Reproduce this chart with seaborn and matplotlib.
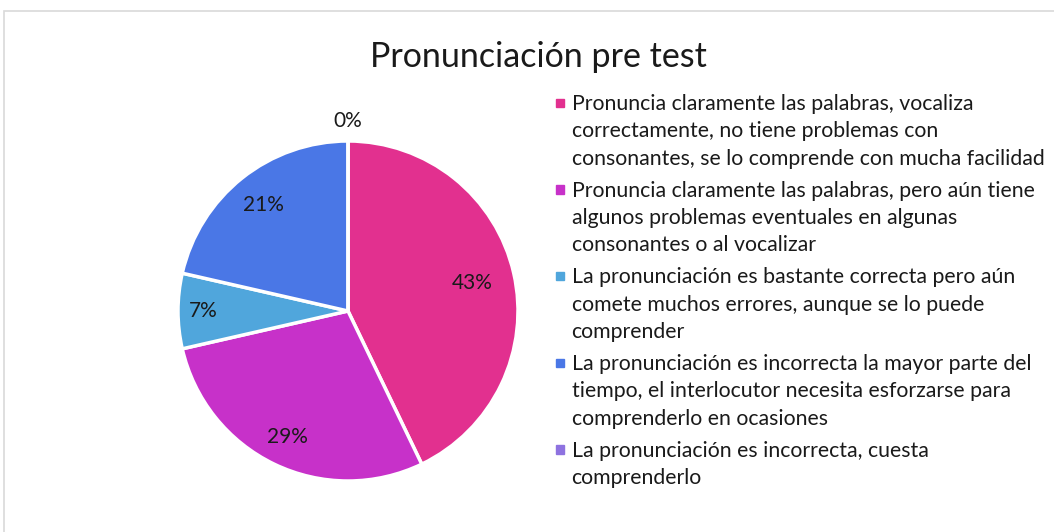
import numpy as np
import matplotlib
matplotlib.use('Agg')
import matplotlib.pyplot as plt
from matplotlib.patches import Rectangle
import seaborn as sns

# Datos (recuento de estudiantes por nivel)
categorias = [
    "Pronuncia claramente las palabras, vocaliza\ncorrectamente, no tiene problemas con\nconsonantes, se lo comprende con mucha facilidad",
    "Pronuncia claramente las palabras, pero aún tiene\nalgunos problemas eventuales en algunas\nconsonantes o al vocalizar",
    "La pronunciación es bastante correcta pero aún\ncomete muchos errores, aunque se lo puede\ncomprender",
    "La pronunciación es incorrecta la mayor parte del\ntiempo, el interlocutor necesita esforzarse para\ncomprenderlo en ocasiones",
    "La pronunciación es incorrecta, cuesta\ncomprenderlo",
]
conteos = [6, 4, 1, 3, 0]
colores = ['#E2308F', '#C731C9', '#50A6DC', '#4A77E6', '#8E72E0']
titulo = "Pronunciación pre test"

sns.set_style('white')
plt.rcParams['font.family'] = ['Lato', 'DejaVu Sans']

W, H = 1054, 532
fig = plt.figure(figsize=(W / 100, H / 100), dpi=100)

# borde gris del gráfico
fig.add_artist(Rectangle((4 / W, -0.05), 1.2, (H - 11) / H + 0.05,
                         transform=fig.transFigure, fill=False,
                         edgecolor='#D9D9D9', lw=1.2))

cx, cy, r = 348, 311, 170
ax = fig.add_axes([(cx - r) / W, (H - cy - r) / H, 2 * r / W, 2 * r / H])
wedges, _ = ax.pie(conteos, colors=colores, startangle=90, counterclock=False,
                   wedgeprops=dict(edgecolor='white', linewidth=2.5))
ax.set_xlim(-1, 1)
ax.set_ylim(-1, 1)
ax.set_aspect('equal')

total = sum(conteos)
dist = [0.75, 0.82, 0.85, 0.80, 1.12]
for w, c, d in zip(wedges, conteos, dist):
    ang = np.deg2rad((w.theta1 + w.theta2) / 2)
    ax.text(d * np.cos(ang), d * np.sin(ang), f"{round(100 * c / total)}%",
            ha='center', va='center', fontsize=15, color='#1a1a1a')

fig.text(538 / W, 1 - 57 / H, titulo, ha='center', va='center',
         fontsize=24.5, color='#1a1a1a')

# leyenda manual, línea por línea
y = 110
for lab, col in zip(categorias, colores):
    fig.add_artist(Rectangle((555.5 / W, 1 - (y - 3) / H), 8.5 / W, 8.5 / H,
                             transform=fig.transFigure, color=col))
    for linea in lab.split('\n'):
        fig.text(571.5 / W, 1 - y / H, linea, ha='left', va='baseline',
                 fontsize=15.3, color='#1a1a1a')
        y += 27.3
    y += 4.8

fig.savefig('out.png', dpi=100)
